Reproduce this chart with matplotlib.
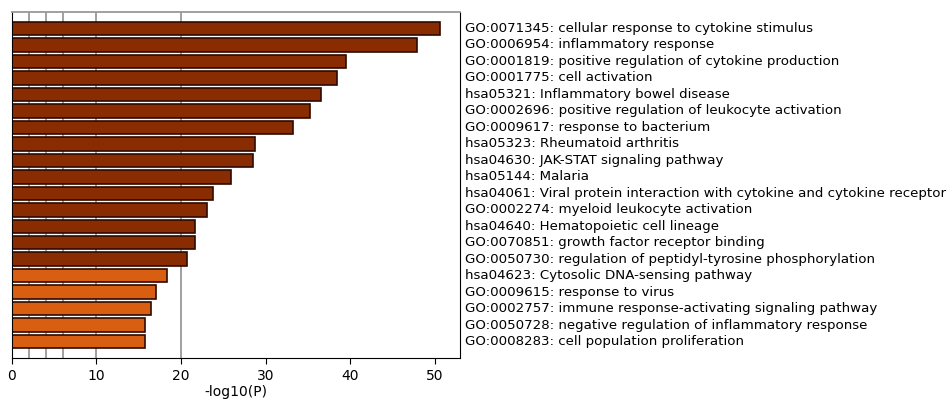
import matplotlib
matplotlib.use("Agg")
import matplotlib.pyplot as plt
import numpy as np

# enrichment terms, top to bottom
terms = [
    "GO:0071345: cellular response to cytokine stimulus",
    "GO:0006954: inflammatory response",
    "GO:0001819: positive regulation of cytokine production",
    "GO:0001775: cell activation",
    "hsa05321: Inflammatory bowel disease",
    "GO:0002696: positive regulation of leukocyte activation",
    "GO:0009617: response to bacterium",
    "hsa05323: Rheumatoid arthritis",
    "hsa04630: JAK-STAT signaling pathway",
    "hsa05144: Malaria",
    "hsa04061: Viral protein interaction with cytokine and cytokine receptor",
    "GO:0002274: myeloid leukocyte activation",
    "hsa04640: Hematopoietic cell lineage",
    "GO:0070851: growth factor receptor binding",
    "GO:0050730: regulation of peptidyl-tyrosine phosphorylation",
    "hsa04623: Cytosolic DNA-sensing pathway",
    "GO:0009615: response to virus",
    "GO:0002757: immune response-activating signaling pathway",
    "GO:0050728: negative regulation of inflammatory response",
    "GO:0008283: cell population proliferation",
]
logp = [50.6, 47.9, 39.5, 38.5, 36.6, 35.3, 33.3, 28.7, 28.5, 25.9,
        23.8, 23.1, 21.7, 21.7, 20.7, 18.4, 17.0, 16.5, 15.8, 15.7]
guides = [2, 4, 6, 10, 20]

n = len(terms)
y = np.arange(n)
colors = ["#8a2c02"] * 15 + ["#d85e12"] * 5

fig = plt.figure(figsize=(9.49, 4.01), dpi=100)
ax = fig.add_axes([0.0126, 0.107, 0.472, 0.863])

# grey guide lines behind the bars
for g in guides:
    ax.axvline(g, color="#999999", linewidth=1.3, zorder=0)

ax.barh(y, logp, height=0.82, color=colors, edgecolor="#2e0a00", linewidth=1.2, zorder=2)

ax.set_ylim(n, -1)
ax.set_xlim(0, 53)
ax.set_yticks([])
ax.set_xticks([0, 10, 20, 30, 40, 50])
ax.tick_params(axis="x", labelsize=10, length=4, direction="out")
ax.set_xlabel("-log10(P)", fontsize=10, labelpad=2)

ax.spines["top"].set_color("#999999")
ax.spines["top"].set_linewidth(1.3)

# term labels to the right of the plot
for i, t in enumerate(terms):
    ax.text(1.012, i, t, transform=ax.get_yaxis_transform(), fontsize=9.6,
            va="center", ha="left")

fig.savefig("out.png", dpi=100)
